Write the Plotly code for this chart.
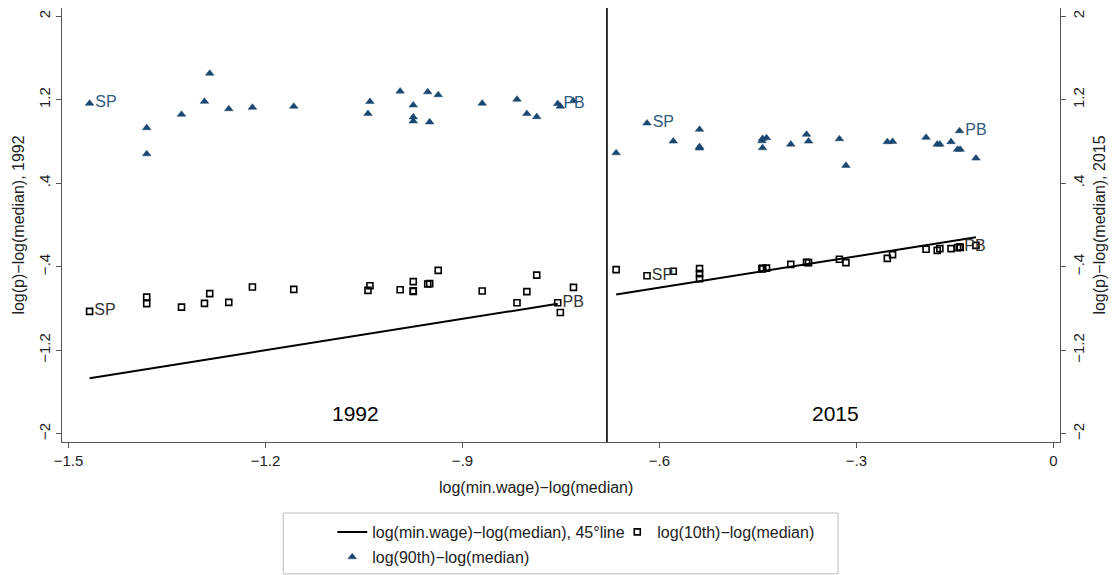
import plotly.graph_objects as go

# ---------------- data ----------------
x_1992 = [-1.468, -1.381, -1.381, -1.328, -1.293, -1.285, -1.256, -1.220, -1.157,
          -1.044, -1.041, -0.995, -0.975, -0.975, -0.975, -0.953, -0.950, -0.937,
          -0.870, -0.817, -0.802, -0.787, -0.755, -0.751, -0.731]
p90_1992 = [1.165, 0.931, 0.681, 1.060, 1.184, 1.453, 1.113, 1.127, 1.136,
            1.067, 1.182, 1.282, 1.149, 1.035, 0.996, 1.275, 0.987, 1.247,
            1.166, 1.204, 1.067, 1.037, 1.163, 1.137, 1.189]
p10_1992 = [-0.828, -0.691, -0.754, -0.787, -0.751, -0.658, -0.742, -0.595, -0.617,
            -0.627, -0.582, -0.620, -0.543, -0.636, -0.630, -0.566, -0.562, -0.435,
            -0.633, -0.745, -0.639, -0.480, -0.745, -0.838, -0.598]
labels_1992 = ["SP"] + [""] * 21 + ["PB", "", ""]

x_2015 = [-0.666, -0.619, -0.579, -0.539, -0.539, -0.539, -0.444, -0.443, -0.437,
          -0.443, -0.400, -0.376, -0.373, -0.326, -0.316, -0.253, -0.245, -0.194,
          -0.177, -0.173, -0.156, -0.146, -0.143, -0.142, -0.118]
p90_2015 = [0.691, 0.976, 0.803, 0.916, 0.749, 0.736, 0.806, 0.739, 0.835,
            0.829, 0.774, 0.868, 0.803, 0.825, 0.570, 0.797, 0.800, 0.839,
            0.774, 0.774, 0.797, 0.724, 0.902, 0.724, 0.640]
p10_2015 = [-0.428, -0.486, -0.444, -0.418, -0.466, -0.514, -0.418, -0.420, -0.413,
            -0.416, -0.377, -0.358, -0.361, -0.329, -0.361, -0.320, -0.284, -0.233,
            -0.243, -0.226, -0.226, -0.217, -0.211, -0.214, -0.195]
labels_2015 = ["", "SP"] + [""] * 20 + ["PB", "", ""]

# 45-degree line extents (min.wage ratio range drawn in each year)
line_1992_x = [-1.468, -0.755]
line_2015_x = [-0.666, -0.118]

divider_x = -0.680
x_ticks = [-1.5, -1.2, -0.9, -0.6, -0.3, 0]
x_ticktext = ["\u22121.5", "\u22121.2", "\u2212.9", "\u2212.6", "\u2212.3", "0"]
y_ticks = [-2, -1.2, -0.4, 0.4, 1.2, 2]
y_ticktext = ["\u22122", "\u22121.2", "\u2212.4", ".4", "1.2", "2"]

NAVY = "#1a476f"
FONT = "Liberation Sans, Arial, sans-serif"

fig = go.Figure()

# 45 degree lines
fig.add_trace(go.Scatter(x=line_1992_x, y=line_1992_x, mode="lines",
                         line=dict(color="black", width=2),
                         name="log(min.wage)\u2212log(median), 45\u00b0line",
                         legend="legend"))
fig.add_trace(go.Scatter(x=line_2015_x, y=line_2015_x, mode="lines",
                         line=dict(color="black", width=2), yaxis="y2",
                         showlegend=False))

sq = dict(symbol="square-open", size=6, color="black", line=dict(width=1.6, color="black"))
tri = dict(symbol="triangle-up", size=7.5, color=NAVY, line=dict(width=0.5, color=NAVY))

fig.add_trace(go.Scatter(x=x_1992, y=p10_1992, mode="markers+text", text=labels_1992,
                         textposition="middle right", textfont=dict(size=16, color="#333333", family=FONT),
                         marker=sq, name="log(10th)\u2212log(median)", legend="legend"))
fig.add_trace(go.Scatter(x=x_2015, y=p10_2015, mode="markers+text", text=labels_2015,
                         textposition="middle right", textfont=dict(size=16, color="#333333", family=FONT),
                         marker=sq, yaxis="y2", showlegend=False))
fig.add_trace(go.Scatter(x=x_1992, y=p90_1992, mode="markers+text", text=labels_1992,
                         textposition="middle right", textfont=dict(size=16, color="#2f5a80", family=FONT),
                         marker=tri, name="log(90th)\u2212log(median)", legend="legend2"))
fig.add_trace(go.Scatter(x=x_2015, y=p90_2015, mode="markers+text", text=labels_2015,
                         textposition="middle right", textfont=dict(size=16, color="#2f5a80", family=FONT),
                         marker=tri, yaxis="y2", showlegend=False))

axis_common = dict(showgrid=False, zeroline=False, showline=True, linecolor="#555555",
                   linewidth=1.3, ticks="outside", ticklen=5, tickcolor="#555555",
                   tickfont=dict(size=15, color="#222222", family=FONT),
                   title_font=dict(size=16, color="#222222", family=FONT))

fig.update_layout(
    width=1113, height=575,
    margin=dict(l=62, r=53, t=8, b=133),
    paper_bgcolor="white", plot_bgcolor="white",
    font=dict(family=FONT, size=16, color="#222222"),
    xaxis=dict(range=[-1.510, 0.010], tickvals=x_ticks, ticktext=x_ticktext, **axis_common),
    yaxis=dict(range=[-2.08, 2.08], tickvals=y_ticks, ticktext=y_ticktext, tickangle=-90,
               title=dict(text="log(p)\u2212log(median), 1992", standoff=7), **axis_common),
    yaxis2=dict(range=[-2.08, 2.08], tickvals=y_ticks, ticktext=y_ticktext, tickangle=-90,
                overlaying="y", side="right", anchor="x",
                title=dict(text="log(p)\u2212log(median), 2015", standoff=7), **axis_common),
    legend=dict(orientation="h", x=0.2708, xanchor="left", y=1 - 532 / 575, yref="container",
                yanchor="middle", entrywidth=240,
                font=dict(size=16, family=FONT, color="#222222"),
                bgcolor="rgba(0,0,0,0)", itemwidth=30),
    legend2=dict(orientation="h", x=0.2708, xanchor="left", y=1 - 557 / 575, yref="container",
                 yanchor="middle",
                 font=dict(size=16, family=FONT, color="#222222"),
                 bgcolor="rgba(0,0,0,0)", itemwidth=30),
    shapes=[
        dict(type="line", xref="x", yref="paper", x0=divider_x, x1=divider_x, y0=0, y1=1,
             line=dict(color="black", width=1.6)),
        dict(type="rect", xref="paper", yref="paper", x0=0.2217, x1=0.7776, y0=-0.304, y1=-0.1636,
             line=dict(color="#bbbbbb", width=1)),
    ],
    annotations=[
        dict(x=-1.063, y=-1.81, xref="x", yref="y", text="1992", showarrow=False,
             font=dict(size=21, color="black", family=FONT)),
        dict(x=-0.332, y=-1.81, xref="x", yref="y", text="2015", showarrow=False,
             font=dict(size=21, color="black", family=FONT)),
        dict(x=0.475, y=-0.1037, xref="paper", yref="paper", yanchor="middle",
             text="log(min.wage)\u2212log(median)", showarrow=False,
             font=dict(size=16, color="#222222", family=FONT)),
    ],
)

fig.write_html("out.html")
